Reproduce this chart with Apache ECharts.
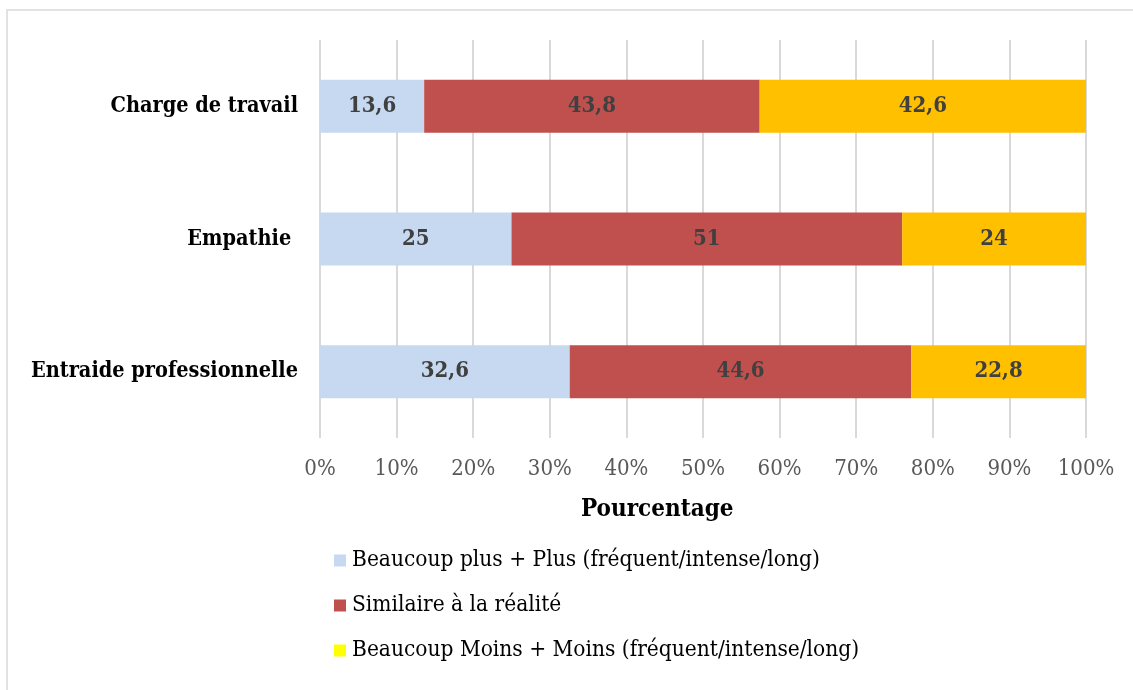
<!DOCTYPE html>
<html>
<head>
<meta charset="utf-8">
<script src="https://cdn.jsdelivr.net/npm/echarts@6/dist/echarts.min.js"></script>
<style>
  html, body { margin: 0; padding: 0; background: #fff; }
  #chart { width: 1133px; height: 690px; }
</style>
</head>
<body>
<div id="chart"></div>
<script>
// categories bottom -> top (ECharts category axis starts at the bottom)
const categories = ['Entraide professionnelle', 'Empathie ', 'Charge de travail'];
const seriesNames = [
  'Beaucoup plus + Plus (fréquent/intense/long)',
  'Similaire à la réalité',
  'Beaucoup Moins + Moins (fréquent/intense/long)'
];
const plusValues = [32.6, 25, 13.6];
const similarValues = [44.6, 51, 43.8];
const moinsValues = [22.8, 24, 42.6];
const tickLabels = ['0%', '10%', '20%', '30%', '40%', '50%', '60%', '70%', '80%', '90%', '100%'];

const serif = "'DejaVu Serif Condensed', 'DejaVu Serif', serif";
const barColors = ['#C6D9F0', '#C0504D', '#FFC000'];
const legendColors = ['#C6D9F0', '#C0504D', '#FFFF00'];

const chart = echarts.init(document.getElementById('chart'));

const makeSeries = (name, data, color) => ({
  name: name,
  type: 'bar',
  stack: 'total',
  barWidth: 53,
  data: data,
  itemStyle: { color: color },
  label: {
    show: true,
    position: 'inside',
    formatter: p => String(p.value).replace('.', ','),
    fontFamily: serif,
    fontWeight: 'bold',
    fontSize: 22,
    color: '#404040'
  }
});

chart.setOption({
  animation: false,
  grid: { left: 320, right: 47, top: 40, bottom: 252 },
  xAxis: {
    type: 'value',
    min: 0,
    max: 100,
    interval: 10,
    axisLine: { show: false },
    axisTick: { show: false },
    splitLine: { lineStyle: { color: '#D9D9D9', width: 2 } },
    axisLabel: {
      margin: 20,
      fontFamily: serif,
      fontSize: 22,
      color: '#595959',
      formatter: v => tickLabels[Math.round(v / 10)]
    }
  },
  yAxis: {
    type: 'category',
    data: categories,
    axisLine: { show: false },
    axisTick: { show: false },
    axisLabel: {
      margin: 22,
      fontFamily: serif,
      fontWeight: 'bold',
      fontSize: 21.5,
      color: '#000'
    }
  },
  legend: {
    orient: 'vertical',
    left: 329,
    top: 544,
    itemGap: 22,
    itemWidth: 12,
    itemHeight: 12,
    icon: 'rect',
    textStyle: { fontFamily: serif, fontSize: 22.5, color: '#000', padding: [0, 0, 0, 1] },
    data: seriesNames.map((n, i) => ({ name: n, itemStyle: { color: legendColors[i] } }))
  },
  graphic: [
    {
      type: 'rect',
      shape: { x: 7, y: 10, width: 1140, height: 700 },
      style: { fill: 'none', stroke: '#D9D9D9', lineWidth: 1.5 },
      silent: true
    },
    {
      type: 'text',
      left: 581,
      top: 498,
      style: {
        text: 'Pourcentage',
        fontFamily: serif,
        fontWeight: 'bold',
        fontSize: 24,
        fill: '#000'
      }
    }
  ],
  series: [
    makeSeries(seriesNames[0], plusValues, barColors[0]),
    makeSeries(seriesNames[1], similarValues, barColors[1]),
    makeSeries(seriesNames[2], moinsValues, barColors[2])
  ]
});
</script>
</body>
</html>
